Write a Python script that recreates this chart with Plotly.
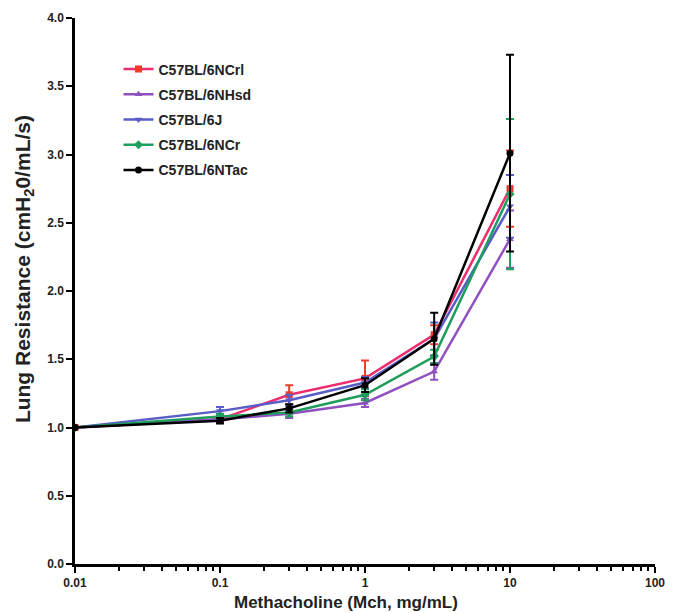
import plotly.graph_objects as go

doses = [0.01, 0.1, 0.3, 1, 3, 10]
strains = ["C57BL/6NCrl", "C57BL/6NHsd", "C57BL/6J", "C57BL/6NCr", "C57BL/6NTac"]
mean_ncrl = [1.00, 1.06, 1.24, 1.36, 1.68, 2.75]
err_ncrl = [0.0, 0.02, 0.07, 0.13, 0.07, 0.28]
mean_nhsd = [1.00, 1.06, 1.10, 1.18, 1.41, 2.38]
err_nhsd = [0.0, 0.02, 0.03, 0.03, 0.06, 0.21]
mean_6j = [1.00, 1.12, 1.20, 1.33, 1.65, 2.62]
err_6j = [0.0, 0.03, 0.04, 0.04, 0.12, 0.23]
mean_ncr = [1.00, 1.08, 1.11, 1.24, 1.52, 2.71]
err_ncr = [0.0, 0.02, 0.03, 0.04, 0.05, 0.55]
mean_ntac = [1.00, 1.05, 1.14, 1.31, 1.65, 3.01]
err_ntac = [0.0, 0.02, 0.03, 0.05, 0.19, 0.72]
y_ticks = [0.0, 0.5, 1.0, 1.5, 2.0, 2.5, 3.0, 3.5, 4.0]
x_ticks = [0.01, 0.1, 1, 10, 100]
x_ticklabels = ["0.01", "0.1", "1", "10", "100"]
x_minor = [d * k for d in (0.01, 0.1, 1, 10) for k in range(2, 10)]

series = [
    (strains[0], mean_ncrl, err_ncrl, "#EE2D6E", "#F03A2A", "square"),
    (strains[1], mean_nhsd, err_nhsd, "#9150C0", "#9150C0", "triangle-up"),
    (strains[2], mean_6j, err_6j, "#5A5CC8", "#5A5CC8", "triangle-down"),
    (strains[3], mean_ncr, err_ncr, "#1F9D5C", "#1F9D5C", "diamond"),
    (strains[4], mean_ntac, err_ntac, "#000000", "#000000", "circle"),
]

fig = go.Figure()
for name, m, e, lc, mc, sym in series:
    fig.add_trace(go.Scatter(
        x=doses, y=m, name=name, legendgroup=name, mode="lines+markers",
        line=dict(color=lc, width=2.5),
        marker=dict(symbol=sym, size=7, color=mc),
        error_y=dict(type="data", array=e, visible=True, color=mc, thickness=2, width=4),
    ))

font_family = "Liberation Sans, Arial, sans-serif"
title_font = dict(family=font_family, color="#222222", weight="bold")
fig.update_layout(
    width=675, height=613,
    paper_bgcolor="white", plot_bgcolor="white",
    margin=dict(l=75, r=20, t=18, b=49, autoexpand=False),
    font=dict(family=font_family, color="#222222"),
    showlegend=True,
    legend=dict(
        x=0.075, y=0.935, xanchor="left", yanchor="top",
        font=dict(size=14, family=font_family, color="#222222", weight="bold"),
        bgcolor="rgba(0,0,0,0)", itemwidth=30, tracegroupgap=4,
    ),
    xaxis=dict(
        type="log", range=[-2, 2], automargin=False,
        tickvals=x_ticks, ticktext=x_ticklabels,
        ticks="outside", ticklen=6, tickwidth=2, tickcolor="black",
        showline=True, linecolor="black", linewidth=2.5,
        showgrid=False, zeroline=False,
        tickfont=dict(size=12, family=font_family, color="#222222", weight="bold"),
        minor=dict(tickvals=x_minor, ticks="outside", ticklen=4, tickwidth=2,
                   tickcolor="black", showgrid=False),
    ),
    yaxis=dict(
        range=[0, 4], tickvals=y_ticks, tickformat=".1f", automargin=False,
        ticks="outside", ticklen=6, tickwidth=2, tickcolor="black",
        showline=True, linecolor="black", linewidth=2.5,
        showgrid=False, zeroline=False,
        tickfont=dict(size=12, family=font_family, color="#222222", weight="bold"),
    ),
    annotations=[
        dict(text="Methacholine (Mch, mg/mL)", xref="paper", yref="paper",
             x=0.467, y=-0.0714, xanchor="center", yanchor="middle",
             showarrow=False, font=dict(size=17, **title_font)),
        dict(text="Lung Resistance (cmH<sub>2</sub>0/mL/s)", xref="paper", yref="paper",
             x=-0.088, y=0.54, xanchor="center", yanchor="middle", textangle=-90,
             showarrow=False, font=dict(size=21, **title_font)),
    ],
)

fig.write_html("out.html", config={"displayModeBar": False},
               post_script="document.body.style.margin='0';")
